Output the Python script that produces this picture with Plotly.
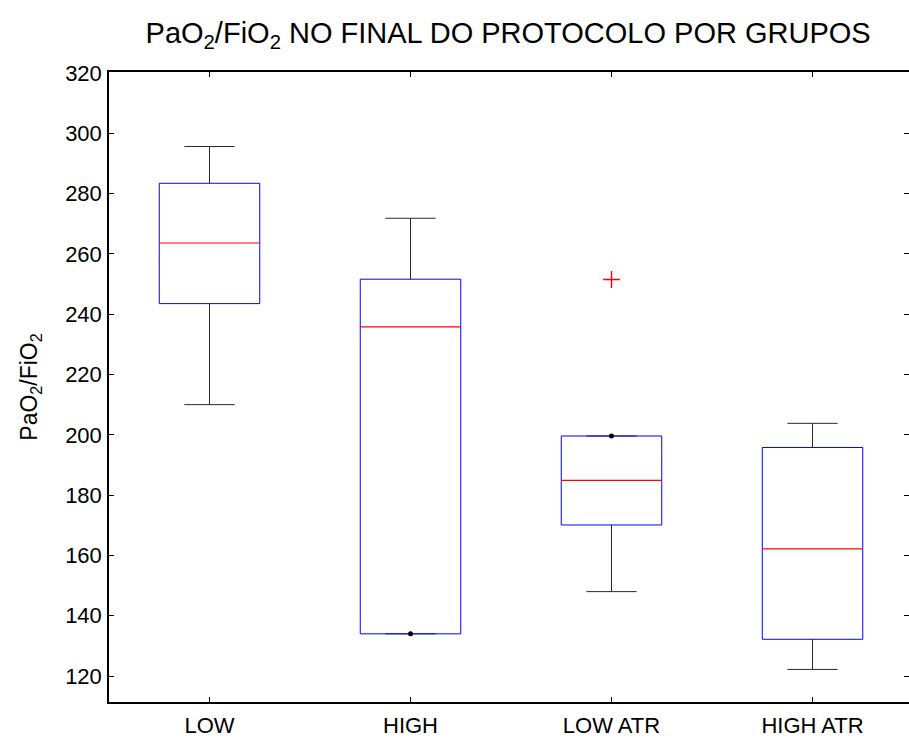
import plotly.graph_objects as go

# Group labels and summary statistics for each box
groups = ["LOW", "HIGH", "LOW ATR", "HIGH ATR"]
upper_whisker = [295.6, 271.8, 199.6, 203.8]
q3 = [283.4, 251.6, 199.6, 195.8]
median = [263.6, 235.8, 184.9, 162.2]
q1 = [243.5, 134.0, 170.1, 132.2]
lower_whisker = [210.0, 134.0, 148.0, 122.2]
outlier_group = [3]
outlier_value = [251.5]

y_ticks = [120, 140, 160, 180, 200, 220, 240, 260, 280, 300, 320]

BOX_HALF = 0.25
CAP_HALF = 0.125

fig = go.Figure()

for i, _ in enumerate(groups):
    x = i + 1
    # whisker stems and caps
    fig.add_trace(go.Scatter(
        x=[x, x, None, x, x, None,
           x - CAP_HALF, x + CAP_HALF, None, x - CAP_HALF, x + CAP_HALF],
        y=[q3[i], upper_whisker[i], None, q1[i], lower_whisker[i], None,
           upper_whisker[i], upper_whisker[i], None, lower_whisker[i], lower_whisker[i]],
        mode="lines", line=dict(color="#2a2a2a", width=1), hoverinfo="skip"))
    # box outline
    fig.add_trace(go.Scatter(
        x=[x - BOX_HALF, x + BOX_HALF, x + BOX_HALF, x - BOX_HALF, x - BOX_HALF],
        y=[q1[i], q1[i], q3[i], q3[i], q1[i]],
        mode="lines", line=dict(color="#0000ff", width=1), hoverinfo="skip"))
    # median
    fig.add_trace(go.Scatter(
        x=[x - BOX_HALF, x + BOX_HALF], y=[median[i], median[i]],
        mode="lines", line=dict(color="#ff0000", width=1.2), hoverinfo="skip"))
    # zero-length whiskers show up as a dot
    dots = []
    if upper_whisker[i] == q3[i]:
        dots.append(q3[i])
    if lower_whisker[i] == q1[i]:
        dots.append(q1[i])
    if dots:
        fig.add_trace(go.Scatter(
            x=[x] * len(dots), y=dots, mode="markers",
            marker=dict(color="black", size=5, symbol="circle"), hoverinfo="skip"))

fig.add_trace(go.Scatter(x=outlier_group, y=outlier_value, mode="markers",
                         marker=dict(symbol="cross-thin", size=12,
                                     line=dict(color="#ff0000", width=1.4)),
                         hoverinfo="skip"))

# invisible trace on the right-hand axis so its ticks are drawn
fig.add_trace(go.Scatter(x=[None], y=[None], yaxis="y2", hoverinfo="skip"))

y_range = [111.4, 320.3]

fig.update_layout(
    width=909, height=738,
    margin=dict(l=109, r=0, t=72, b=34),
    paper_bgcolor="white", plot_bgcolor="white",
    showlegend=False,
    font=dict(family="Liberation Sans, Arial, sans-serif", color="black", size=22),
    title=dict(
        text="PaO<sub>2</sub>/FiO<sub>2</sub> NO FINAL DO PROTOCOLO POR GRUPOS",
        x=0.559, xanchor="center", y=0.956, yanchor="middle",
        font=dict(size=29, color="black"),
    ),
    xaxis=dict(
        range=[0.5, 4.48],
        tickvals=[1, 2, 3, 4], ticktext=groups,
        ticks="inside", ticklen=5, tickcolor="black", tickwidth=1,
        showline=True, linecolor="black", linewidth=1.5, mirror="ticks",
        showgrid=False, zeroline=False,
        tickfont=dict(size=22), ticklabelstandoff=3,
    ),
    yaxis=dict(
        range=y_range,
        tickvals=y_ticks,
        ticks="inside", ticklen=5, tickcolor="black", tickwidth=1,
        showline=True, linecolor="black", linewidth=1.5, mirror=False,
        showgrid=False, zeroline=False,
        tickfont=dict(size=22), ticklabelstandoff=1,
        title=dict(text="PaO<sub>2</sub>/FiO<sub>2</sub>", font=dict(size=23), standoff=21),
    ),
    yaxis2=dict(
        range=y_range, overlaying="y", side="right",
        tickvals=y_ticks, ticks="inside", ticklen=5, tickcolor="black", tickwidth=1,
        showticklabels=False, showline=False, showgrid=False, zeroline=False,
    ),
)

fig.write_html("out.html")
